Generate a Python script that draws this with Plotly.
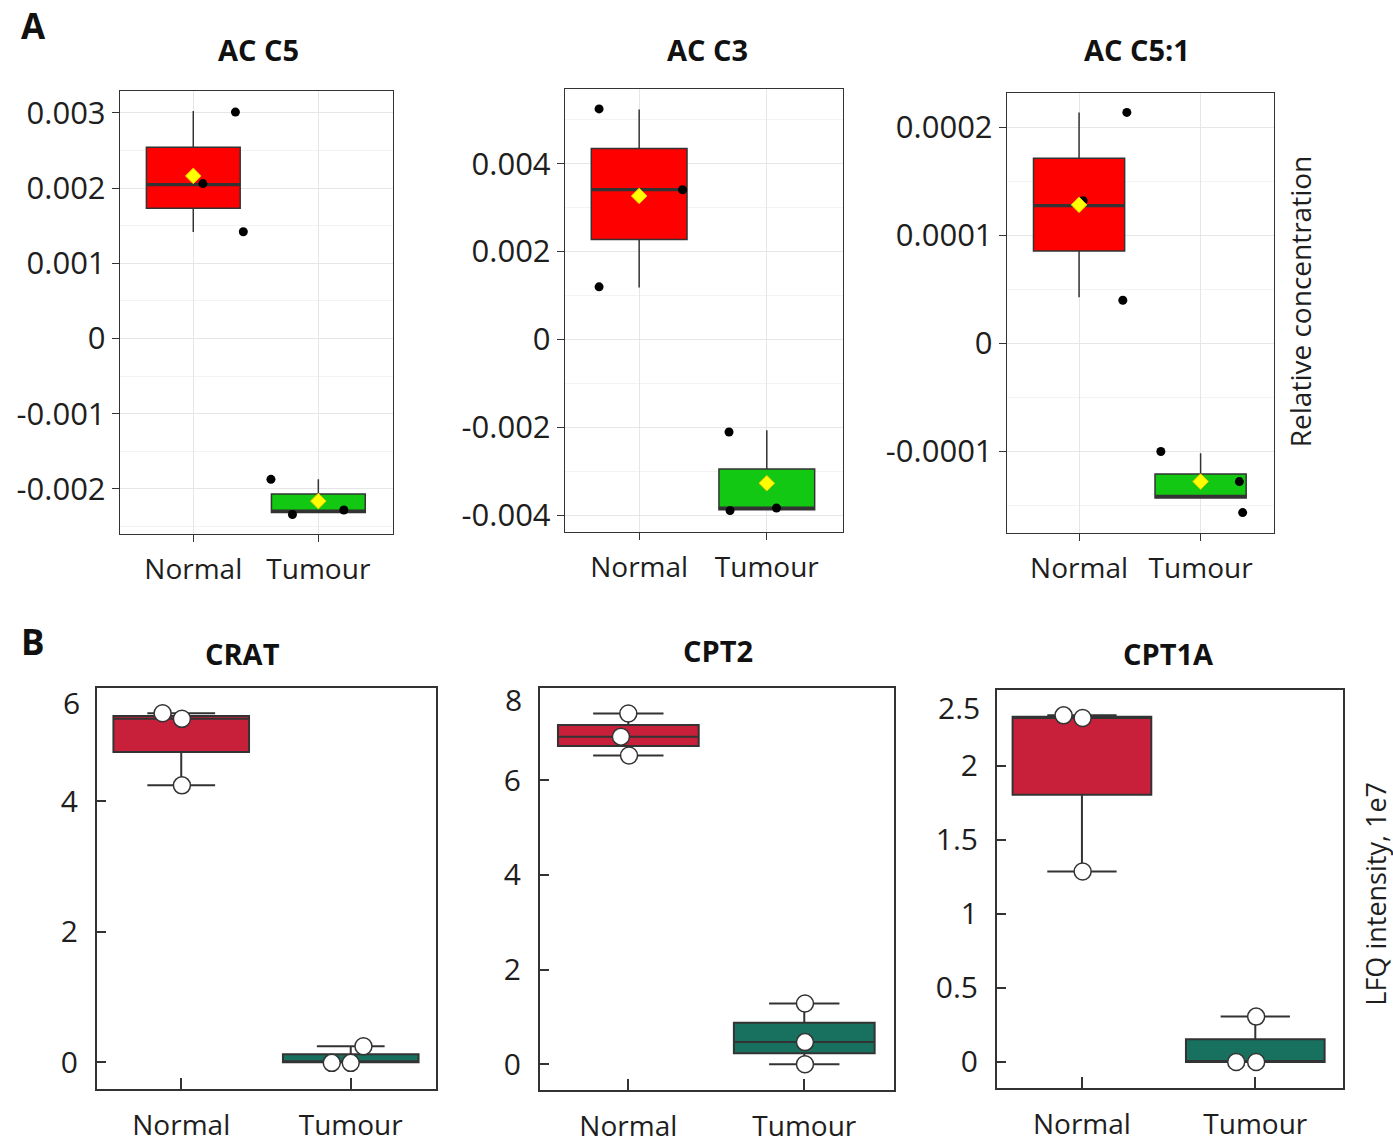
import numpy as np
import plotly.graph_objects as go

# ---------------- data ----------------
categories = ["Normal", "Tumour"]

# Panel A (ggplot-style boxplots; stats)
acc5_title = "AC C5"
acc5_q1 = [0.001731, -0.002315]
acc5_med = [0.002046, -0.002294]
acc5_q3 = [0.002543, -0.002066]
acc5_lo = [0.001416, -0.002315]
acc5_hi = [0.003025, -0.001873]
acc5_mean = [0.002162, -0.002162]
acc5_pts_normal = [0.00301, 0.00206, 0.00142]
acc5_jit_normal = [0.337, 0.077, 0.40]
acc5_pts_tumour = [-0.001873, -0.00234, -0.00228]
acc5_jit_tumour = [-0.379, -0.207, 0.204]
acc5_ticks = [-0.002, -0.001, 0.0, 0.001, 0.002, 0.003]
acc5_ticktext = ["-0.002", "-0.001", "0", "0.001", "0.002", "0.003"]

acc3_title = "AC C3"
acc3_q1 = [0.002276, -0.003882]
acc3_med = [0.00341, -0.00384]
acc3_q3 = [0.004346, -0.002953]
acc3_lo = [0.001181, -0.003882]
acc3_hi = [0.005236, -0.00207]
acc3_mean = [0.003268, -0.003276]
acc3_pts_normal = [0.00525, 0.001197, 0.00341]
acc3_jit_normal = [-0.314, -0.314, 0.34]
acc3_pts_tumour = [-0.00211, -0.0039, -0.00384]
acc3_jit_tumour = [-0.296, -0.288, 0.076]
acc3_ticks = [-0.004, -0.002, 0.0, 0.002, 0.004]
acc3_ticktext = ["-0.004", "-0.002", "0", "0.002", "0.004"]

acc51_title = "AC C5:1"
acc51_q1 = [0.0000856, -0.0001431]
acc51_med = [0.0001275, -0.0001415]
acc51_q3 = [0.0001713, -0.0001207]
acc51_lo = [0.0000428, -0.0001431]
acc51_hi = [0.0002137, -0.0001016]
acc51_mean = [0.0001282, -0.0001278]
acc51_pts_normal = [0.0002137, 0.0000399, 0.000132]
acc51_jit_normal = [0.393, 0.36, 0.033]
acc51_pts_tumour = [-0.0001, -0.0001278, -0.0001565]
acc51_jit_tumour = [-0.327, 0.319, 0.346]
acc51_ticks = [-0.0001, 0.0, 0.0001, 0.0002]
acc51_ticktext = ["-0.0001", "0", "0.0001", "0.0002"]

# Panel B (seaborn-style boxplots)
crat_title = "CRAT"
crat_q1 = [4.755, 0.0]
crat_med = [5.265, 0.0]
crat_q3 = [5.31, 0.1225]
crat_lo = [4.245, 0.0]
crat_hi = [5.352, 0.245]
crat_pts_normal = [5.352, 5.265, 4.245]
crat_jit_normal = [-0.11, 0.004, 0.004]
crat_pts_tumour = [-0.01, -0.01, 0.245]
crat_jit_tumour = [-0.112, 0.0, 0.075]
crat_ticks = [0, 2, 4]
crat_toplabel = "6"

cpt2_title = "CPT2"
cpt2_q1 = [6.72, 0.234]
cpt2_med = [6.92, 0.468]
cpt2_q3 = [7.165, 0.876]
cpt2_lo = [6.52, 0.0]
cpt2_hi = [7.41, 1.284]
cpt2_pts_normal = [7.41, 6.92, 6.52]
cpt2_jit_normal = [0.0, -0.042, 0.004]
cpt2_pts_tumour = [1.284, 0.468, 0.0]
cpt2_jit_tumour = [0.004, 0.004, 0.004]
cpt2_ticks = [0, 2, 4, 6]
cpt2_toplabel = "8"

cpt1a_title = "CPT1A"
cpt1a_q1 = [1.804, 0.0]
cpt1a_med = [2.322, 0.0]
cpt1a_q3 = [2.331, 0.153]
cpt1a_lo = [1.286, 0.0]
cpt1a_hi = [2.34, 0.306]
cpt1a_pts_normal = [2.34, 2.322, 1.286]
cpt1a_jit_normal = [-0.106, 0.004, 0.004]
cpt1a_pts_tumour = [0.0, 0.0, 0.306]
cpt1a_jit_tumour = [-0.11, 0.005, 0.005]
cpt1a_ticks = [0, 0.5, 1, 1.5, 2]
cpt1a_ticktext = ["0", "0.5", "1", "1.5", "2"]
cpt1a_toplabel = "2.5"

ylabel_a = "Relative concentration"
ylabel_b = "LFQ intensity, 1e7"

# ---------------- geometry / style ----------------
OFF = 0
FW, FH = 1393, 1146
FONT = "Open Sans"
TXT = "#1e1e1e"


def px(x):
    return (x - OFF) / FW


def py(y):
    return 1 - (y - OFF) / FH


panels = [
    dict(kind="A", title=acc5_title, q1=acc5_q1, med=acc5_med, q3=acc5_q3, lo=acc5_lo, hi=acc5_hi,
         mean=acc5_mean, pn=acc5_pts_normal, jn=acc5_jit_normal, pt=acc5_pts_tumour, jt=acc5_jit_tumour,
         ticks=acc5_ticks, ticktext=acc5_ticktext, box=(120, 393, 91, 535),
         xr=[-0.586, 1.597], yr=[-0.002594, 0.003294], tpos=(258, 50)),
    dict(kind="A", title=acc3_title, q1=acc3_q1, med=acc3_med, q3=acc3_q3, lo=acc3_lo, hi=acc3_hi,
         mean=acc3_mean, pn=acc3_pts_normal, jn=acc3_jit_normal, pt=acc3_pts_tumour, jt=acc3_jit_tumour,
         ticks=acc3_ticks, ticktext=acc3_ticktext, box=(565, 843, 89, 533),
         xr=[-0.581, 1.597], yr=[-0.004378, 0.005709], tpos=(707, 50)),
    dict(kind="A", title=acc51_title, q1=acc51_q1, med=acc51_med, q3=acc51_q3, lo=acc51_lo, hi=acc51_hi,
         mean=acc51_mean, pn=acc51_pts_normal, jn=acc51_jit_normal, pt=acc51_pts_tumour, jt=acc51_jit_tumour,
         ticks=acc51_ticks, ticktext=acc51_ticktext, box=(1007, 1274, 93, 534),
         xr=[-0.593, 1.604], yr=[-0.000175, 0.0002319], tpos=(1137, 50)),
    dict(kind="B", title=crat_title, q1=crat_q1, med=crat_med, q3=crat_q3, lo=crat_lo, hi=crat_hi,
         pn=crat_pts_normal, jn=crat_jit_normal, pt=crat_pts_tumour, jt=crat_jit_tumour,
         ticks=crat_ticks, ticktext=[str(t) for t in crat_ticks], top=crat_toplabel, toppos=(82, 704),
         box=(97, 436, 690, 1092), xr=[-0.497, 1.503], yr=[-0.413, 5.735], tpos=(242, 655)),
    dict(kind="B", title=cpt2_title, q1=cpt2_q1, med=cpt2_med, q3=cpt2_q3, lo=cpt2_lo, hi=cpt2_hi,
         pn=cpt2_pts_normal, jn=cpt2_jit_normal, pt=cpt2_pts_tumour, jt=cpt2_jit_tumour,
         ticks=cpt2_ticks, ticktext=[str(t) for t in cpt2_ticks], top=cpt2_toplabel, toppos=(524, 701),
         box=(540, 894, 690, 1093), xr=[-0.502, 1.51], yr=[-0.546, 7.943], tpos=(718, 652)),
    dict(kind="B", title=cpt1a_title, q1=cpt1a_q1, med=cpt1a_med, q3=cpt1a_q3, lo=cpt1a_lo, hi=cpt1a_hi,
         pn=cpt1a_pts_normal, jn=cpt1a_jit_normal, pt=cpt1a_pts_tumour, jt=cpt1a_jit_tumour,
         ticks=cpt1a_ticks, ticktext=cpt1a_ticktext, top=cpt1a_toplabel, toppos=(982, 709),
         box=(997, 1343, 692, 1091), xr=[-0.49, 1.506], yr=[-0.177, 2.51], tpos=(1168, 655)),
]

colors_a = ["#FF0000", "#13C813"]
colors_b = ["#C8203A", "#18705F"]
EDGE = "#333333"
BOXW_A = 0.75
BOXW_B = 0.80

fig = go.Figure()
annotations = []
layout_axes = {}
xcat = [0, 1]

for i, p in enumerate(panels, start=1):
    xs = "x" if i == 1 else f"x{i}"
    ys = "y" if i == 1 else f"y{i}"
    isA = p["kind"] == "A"
    bw = BOXW_A if isA else BOXW_B
    cols = colors_a if isA else colors_b
    for g in range(2):
        fig.add_trace(go.Box(
            x=[xcat[g]], q1=[p["q1"][g]], median=[p["med"][g]], q3=[p["q3"][g]],
            lowerfence=[p["lo"][g]], upperfence=[p["hi"][g]],
            width=bw, fillcolor=cols[g],
            line=dict(color=EDGE, width=1.5 if isA else 2.0),
            whiskerwidth=0 if isA else 0.5,
            boxpoints=False, showlegend=False, hoverinfo="skip",
            xaxis=xs, yaxis=ys))
        if isA:
            fig.add_trace(go.Scatter(
                x=[xcat[g] - bw / 2, xcat[g] + bw / 2], y=[p["med"][g], p["med"][g]],
                mode="lines", line=dict(color=EDGE, width=3.2), showlegend=False,
                hoverinfo="skip", xaxis=xs, yaxis=ys))
    # points
    pts = [(p["pn"], p["jn"]), (p["pt"], p["jt"])]
    for g, (vals, jit) in enumerate(pts):
        xx = [xcat[g] + j for j in jit]
        if isA:
            marker = dict(color="black", size=9)
        else:
            marker = dict(color="white", size=17, line=dict(color=EDGE, width=1.5))
        fig.add_trace(go.Scatter(x=xx, y=vals, mode="markers", marker=marker,
                                 showlegend=False, hoverinfo="skip", xaxis=xs, yaxis=ys, cliponaxis=False))
    if isA:
        fig.add_trace(go.Scatter(x=xcat, y=p["mean"], mode="markers",
                                 marker=dict(symbol="diamond", color="#FFFF00", size=12,
                                             line=dict(color="#E8C800", width=1)),
                                 showlegend=False, hoverinfo="skip", xaxis=xs, yaxis=ys))

    x0, x1, y0, y1 = p["box"]
    xkey = "xaxis" if i == 1 else f"xaxis{i}"
    ykey = "yaxis" if i == 1 else f"yaxis{i}"
    common = dict(showline=True, mirror=True, linecolor=EDGE, zeroline=False, tickcolor=EDGE)
    if isA:
        tv = p["ticks"]
        minor_vals = [(tv[k] + tv[k + 1]) / 2 for k in range(len(tv) - 1)]
        minor_vals = [tv[0] - (tv[1] - tv[0]) / 2] + minor_vals + [tv[-1] + (tv[1] - tv[0]) / 2]
        layout_axes[xkey] = dict(domain=[px(x0), px(x1)], range=p["xr"], anchor=ys,
                                 tickmode="array", tickvals=xcat, ticktext=categories,
                                 showgrid=True, gridcolor="#E6E6E6", gridwidth=1.3,
                                 linewidth=1.4, ticks="outside", ticklen=7, tickwidth=1.3,
                                 tickfont=dict(family=FONT, size=28, color=TXT),
                                 ticklabelstandoff=4, **common)
        layout_axes[ykey] = dict(domain=[py(y1), py(y0)], range=p["yr"], anchor=xs,
                                 tickmode="array", tickvals=tv, ticktext=p["ticktext"],
                                 showgrid=True, gridcolor="#E6E6E6", gridwidth=1.3,
                                 minor=dict(tickvals=minor_vals, showgrid=True, gridcolor="#F3F3F3",
                                            gridwidth=0.8, ticks=""),
                                 linewidth=1.4, ticks="outside", ticklen=7, tickwidth=1.3,
                                 tickfont=dict(family=FONT, size=31, color=TXT), **common)
    else:
        layout_axes[xkey] = dict(domain=[px(x0), px(x1)], range=p["xr"], anchor=ys,
                                 tickmode="array", tickvals=xcat, ticktext=categories,
                                 showgrid=False, linewidth=2, ticks="inside", ticklen=11, tickwidth=1.6,
                                 tickfont=dict(family=FONT, size=28, color=TXT),
                                 ticklabelstandoff=10, **common)
        layout_axes[ykey] = dict(domain=[py(y1), py(y0)], range=p["yr"], anchor=xs,
                                 tickmode="array", tickvals=p["ticks"], ticktext=p["ticktext"],
                                 showgrid=False, linewidth=2, ticks="inside", ticklen=9, tickwidth=1.6,
                                 tickfont=dict(family=FONT, size=30, color=TXT),
                                 ticklabelstandoff=11, **common)
        annotations.append(dict(text=p["top"], x=px(p["toppos"][0]), y=py(p["toppos"][1]),
                                xref="paper", yref="paper", xanchor="right", yanchor="middle",
                                showarrow=False, font=dict(family=FONT, size=30, color=TXT)))
    annotations.append(dict(text="<b>%s</b>" % p["title"], x=px(p["tpos"][0]), y=py(p["tpos"][1]),
                            xref="paper", yref="paper", xanchor="center", yanchor="middle",
                            showarrow=False, font=dict(family=FONT, size=29, color="#111111")))

annotations += [
    dict(text="<b>A</b>", x=px(33), y=py(26), xref="paper", yref="paper", xanchor="center",
         yanchor="middle", showarrow=False, font=dict(family=FONT, size=35, color="#111111")),
    dict(text="<b>B</b>", x=px(33), y=py(643), xref="paper", yref="paper", xanchor="center",
         yanchor="middle", showarrow=False, font=dict(family=FONT, size=35, color="#111111")),
    dict(text=ylabel_a, x=px(1300), y=py(303), xref="paper", yref="paper", xanchor="center",
         yanchor="middle", textangle=-90, showarrow=False, font=dict(family=FONT, size=28, color=TXT)),
    dict(text=ylabel_b, x=px(1376), y=py(896), xref="paper", yref="paper", xanchor="center",
         yanchor="middle", textangle=-90, showarrow=False, font=dict(family=FONT, size=27, color=TXT)),
]

fig.update_layout(width=FW, height=FH, margin=dict(l=0, r=0, t=0, b=0),
                  paper_bgcolor="white", plot_bgcolor="white", showlegend=False,
                  annotations=annotations, **layout_axes)

fig.write_html("out.html", config={"displayModeBar": False},
               post_script="document.body.style.margin='0px';document.body.style.overflow='hidden';")
